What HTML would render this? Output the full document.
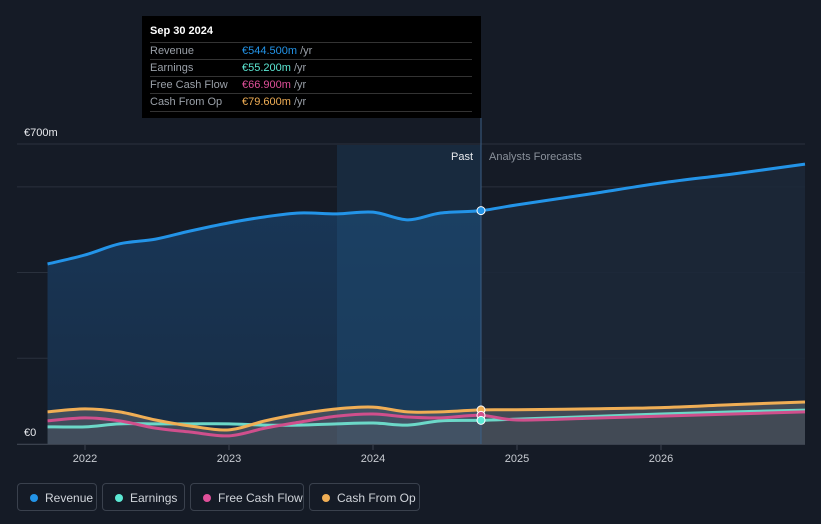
<!DOCTYPE html>
<html><head><meta charset="utf-8"><style>
body{margin:0;background:#151b26;width:821px;height:524px;overflow:hidden;font-family:"Liberation Sans",sans-serif}
svg{position:absolute;left:0;top:0}
.leg{position:absolute;top:483px;height:28px;border:1px solid #3a414d;border-radius:4px;color:#d0d4da;font-size:12px;line-height:28px;box-sizing:border-box;padding-left:27px}
.leg i{position:absolute;left:12px;top:10px;width:8px;height:8px;border-radius:50%}
#tip{position:absolute;left:142px;top:16px;width:339px;height:102px;background:#000;color:#fff;font-size:11px}
#tip .h{position:absolute;left:8px;top:9px;font-weight:bold}
#tip .r{position:absolute;left:8px;width:322px;height:17px;border-top:1px solid #333;color:#9aa0a8;line-height:17px}
#tip .r span{position:absolute;left:92px}
#tip .r b{font-weight:normal;color:#9aa0a8}
</style></head><body>
<svg id="c" width="821" height="524"></svg>
<div id="tip">
<div class="h">Sep 30 2024</div>
<div class="r" style="top:26px">Revenue<span><em style="font-style:normal;color:#2394e8">€544.500m</em> <b>/yr</b></span></div>
<div class="r" style="top:43px">Earnings<span><em style="font-style:normal;color:#5ce8d4">€55.200m</em> <b>/yr</b></span></div>
<div class="r" style="top:60px">Free Cash Flow<span><em style="font-style:normal;color:#e0509a">€66.900m</em> <b>/yr</b></span></div>
<div class="r" style="top:77px;border-bottom:1px solid #333">Cash From Op<span><em style="font-style:normal;color:#f0ae55">€79.600m</em> <b>/yr</b></span></div>
</div>
<div class="leg" style="left:17px;width:80px"><i style="background:#2394e8"></i>Revenue</div>
<div class="leg" style="left:102px;width:83px"><i style="background:#5ce8d4"></i>Earnings</div>
<div class="leg" style="left:190px;width:114px"><i style="background:#e0509a"></i>Free Cash Flow</div>
<div class="leg" style="left:309px;width:111px"><i style="background:#f0ae55"></i>Cash From Op</div>
<script>
const years=[2021.74,2022,2022.24,2022.49,2022.73,2023,2023.25,2023.49,2023.75,2024,2024.24,2024.47,2024.75,2025,2025.5,2026,2026.5,2027];
const revenue=[420,441,467,478,497,516,530,539,537,541,523,539,544.5,558,583,609,630,653];
const earnings=[40,40,47,47,47,47,44,44,47,49,44,54,55.2,58,64,70,75,79];
const fcf=[54,61,54,37,28,19,37,51,65,70,63,61,66.9,56,60,65,70,75];
const cfo=[75,82,75,56,42,33,54,70,82,86,75,75,79.6,80,82,85,92,98];
const xTicks=[2022,2023,2024,2025,2026];
const yTicks=[0,200,400,600,700];
const nowYear=2024.75;
const X=y=>85+(y-2022)*144, Y=v=>444-v*0.4286;
const svg=document.getElementById('c'),NS='http://www.w3.org/2000/svg';
function el(t,a){const e=document.createElementNS(NS,t);for(const k in a)e.setAttribute(k,a[k]);svg.appendChild(e);return e;}
function path(vals){const p=years.map((y,i)=>[X(y),Y(vals[i])]);let d='M'+p[0][0]+','+p[0][1];
for(let i=0;i<p.length-1;i++){const p0=p[i-1]||p[i],p1=p[i],p2=p[i+1],p3=p[i+2]||p2;
d+=' C'+(p1[0]+(p2[0]-p0[0])/6)+','+(p1[1]+(p2[1]-p0[1])/6)+' '+(p2[0]-(p3[0]-p1[0])/6)+','+(p2[1]-(p3[1]-p1[1])/6)+' '+p2[0]+','+p2[1];}return d;}
const defs=el('defs',{});defs.innerHTML='<linearGradient id="g" x1="0" y1="0" x2="0" y2="1"><stop offset="0" stop-color="#19385a"/><stop offset="1" stop-color="#172c44"/></linearGradient><clipPath id="past"><rect x="0" y="0" width="'+X(nowYear)+'" height="524"/></clipPath><clipPath id="hl"><rect x="'+X(2023.75)+'" y="0" width="'+(X(nowYear)-X(2023.75))+'" height="524"/></clipPath>';
yTicks.forEach(v=>{const l=el('line',{x1:17,x2:805,y1:Y(v),y2:Y(v),stroke:'#2a313d','stroke-width':1});});
const base=' L'+X(years[years.length-1])+','+Y(0)+' L'+X(years[0])+','+Y(0)+' Z';
const fa=el('path',{d:path(revenue)+base,fill:'#1c2838',opacity:.9});
const hl=el('rect',{x:X(2023.75),y:145,width:X(nowYear)-X(2023.75),height:299,fill:'#182a3e'});

const fb=el('path',{d:path(revenue)+base,fill:'url(#g)','clip-path':'url(#past)'});
const fc=el('path',{d:path(revenue)+base,fill:'#1e4a70',opacity:.5,'clip-path':'url(#hl)'});
const lo=el('path',{d:path(cfo)+base,fill:'#5e636b',opacity:.6});
el('line',{x1:X(nowYear),x2:X(nowYear),y1:118,y2:444,stroke:'#3b5f85','stroke-width':1});
const series=[[earnings,'#6cd8c8','earnings-line'],[fcf,'#d04f8c','free-cash-flow-line'],[cfo,'#f0ae55','cash-from-op-line'],[revenue,'#2394e8','revenue-line']];
series.forEach(s=>{const p=el('path',{d:path(s[0]),fill:'none',stroke:s[1],'stroke-width':3});});
const ni=years.indexOf(nowYear);
[[cfo,'#f0ae55'],[fcf,'#d04f8c'],[earnings,'#5ce8d4'],[revenue,'#2394e8']].forEach(s=>{const c=el('circle',{cx:X(nowYear),cy:Y(s[0][ni]),r:4,fill:s[1],stroke:'#fff','stroke-width':1});});
el('line',{x1:17,x2:805,y1:444.5,y2:444.5,stroke:'#3a414d'});
xTicks.forEach(y=>{el('line',{x1:X(y),x2:X(y),y1:444,y2:450,stroke:'#3a414d'});const t=el('text',{x:X(y),y:462,fill:'#c8ccd2','font-size':11,'text-anchor':'middle'});t.textContent=y;});
[[700,'€700m',136],[0,'€0',436]].forEach(a=>{const t=el('text',{x:24,y:a[2],fill:'#e8eaee','font-size':11});t.textContent=a[1];});
let t=el('text',{x:473,y:160,fill:'#e8eaee','font-size':11,'text-anchor':'end'});t.textContent='Past';
t=el('text',{x:489,y:160,fill:'#8a919b','font-size':11});t.textContent='Analysts Forecasts';
</script>
</body></html>
